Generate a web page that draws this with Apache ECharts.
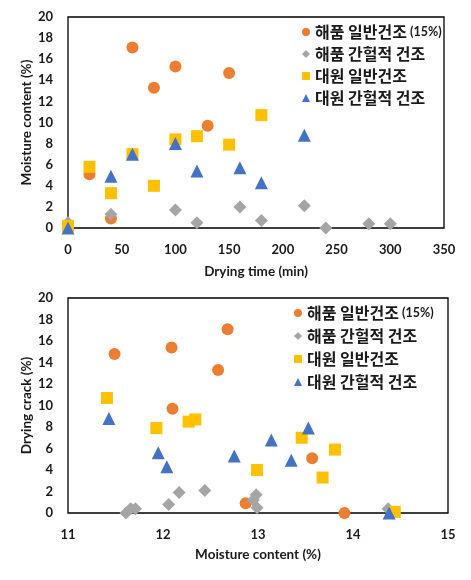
<!DOCTYPE html>
<html>
<head>
<meta charset="utf-8">
<script src="https://cdn.jsdelivr.net/npm/echarts@6/dist/echarts.min.js"></script>
<style>
html,body{margin:0;padding:0;background:#fff;}
#main{width:471px;height:580px;}
</style>
</head>
<body>
<div id="main"></div>
<script>
// ---- Data ----
var seriesNames = ['해품 일반건조', '해품 간헐적 건조', '대원 일반건조', '대원 간헐적 건조'];

// Top chart: drying time (min) vs moisture content (%)
var topHaeGen = [[0,0],[20,5.1],[40,0.9],[60,17.1],[80,13.3],[100,15.3],[130,9.7],[150,14.7]];
var topHaeInt = [[0,0.5],[40,1.3],[100,1.7],[120,0.5],[160,2.0],[180,0.7],[220,2.1],[240,0],[280,0.4],[300,0.4]];
var topDaeGen = [[0,0.2],[20,5.8],[40,3.3],[60,7.0],[80,4.0],[100,8.4],[120,8.7],[150,7.9],[180,10.7]];
var topDaeInt = [[0,0],[40,4.9],[60,7.0],[100,8.0],[120,5.4],[160,5.7],[180,4.3],[220,8.8]];

// Bottom chart: moisture content (%) vs drying crack (%)
var botHaeGen = [[11.49,14.8],[12.09,15.4],[12.1,9.7],[12.68,17.1],[12.58,13.3],[12.87,0.9],[13.57,5.1],[13.91,0]];
var botHaeInt = [[11.61,0],[11.66,0.4],[11.71,0.4],[12.06,0.8],[12.17,1.9],[12.44,2.1],[12.98,1.7],[12.95,1.2],[12.99,0.5],[14.37,0.4]];
var botDaeGen = [[11.41,10.7],[11.93,7.9],[12.27,8.5],[12.34,8.7],[12.99,4.0],[13.46,7.0],[13.81,5.9],[13.68,3.3],[14.44,0.1]];
var botDaeInt = [[11.43,8.8],[11.95,5.6],[12.04,4.3],[12.75,5.3],[13.14,6.8],[13.35,4.9],[13.53,7.9],[14.38,0]];

var topXTicks = {min:0, max:350, interval:50};
var botXTicks = {min:11, max:15, interval:1};
var yTicks = {min:0, max:20, interval:2};

// ---- Styles ----
var colors = ['#ED7D31', '#A5A5A5', '#FFC000', '#4472C4'];
var symbols = ['circle', 'diamond', 'rect', 'triangle'];
var sizes = [12, 13, 12, 13];
var numFont = 'Lato';
var cjkFont = 'Noto Sans CJK KR';

var chart = echarts.init(document.getElementById('main'), null, {renderer:'canvas'});

function axisLabel(){ return {fontFamily:numFont, fontWeight:'bold', fontSize:13, color:'#1a1a1a', margin:15}; }
function nameStyle(){ return {fontFamily:numFont, fontWeight:'bold', fontSize:13.5, color:'#1a1a1a'}; }

function mkSeries(data, i, idx){
  return {
    name: seriesNames[i], type:'scatter', xAxisIndex:idx, yAxisIndex:idx,
    symbol: symbols[i], symbolSize: sizes[i],
    itemStyle:{color: colors[i], opacity:1},
    data: data, z: 2 + i
  };
}

function legendFmt(name){
  if (name === seriesNames[0]) return '{a|' + name + '}{b| (15%)}';
  return '{a|' + name + '}';
}
var legendText = {
  fontFamily: cjkFont, fontWeight:'bold', fontSize:16, color:'#1a1a1a',
  rich: {
    a: {fontFamily: cjkFont, fontWeight:'bold', fontSize:16, color:'#1a1a1a'},
    b: {fontFamily: numFont, fontWeight:'bold', fontSize:12.5, color:'#1a1a1a'}
  }
};

var option = {
  animation:false,
  backgroundColor:'#fff',
  grid:[
    {left:68, top:17, width:376, height:211, show:true, borderColor:'#000', borderWidth:1.3, backgroundColor:'transparent'},
    {left:68, top:298, width:380, height:215, show:true, borderColor:'#000', borderWidth:1.3, backgroundColor:'transparent'}
  ],
  xAxis:[
    {gridIndex:0, type:'value', min:topXTicks.min, max:topXTicks.max, interval:topXTicks.interval,
     name:'Drying time (min)', nameLocation:'middle', nameGap:37, nameTextStyle:nameStyle(),
     axisLine:{show:false}, axisTick:{show:false}, splitLine:{show:false}, axisLabel:axisLabel()},
    {gridIndex:1, type:'value', min:botXTicks.min, max:botXTicks.max, interval:botXTicks.interval,
     name:'Moisture content (%)', nameLocation:'middle', nameGap:35, nameTextStyle:nameStyle(),
     axisLine:{show:false}, axisTick:{show:false}, splitLine:{show:false}, axisLabel:axisLabel()}
  ],
  yAxis:[
    {gridIndex:0, type:'value', min:yTicks.min, max:yTicks.max, interval:yTicks.interval,
     name:'Moisture content (%)', nameLocation:'middle', nameGap:34, nameRotate:90, nameMoveOverlap:false, nameTextStyle:nameStyle(),
     axisLine:{show:false}, axisTick:{show:false}, splitLine:{show:false}, axisLabel:axisLabel()},
    {gridIndex:1, type:'value', min:yTicks.min, max:yTicks.max, interval:yTicks.interval,
     name:'Drying crack (%)', nameLocation:'middle', nameGap:34, nameRotate:90, nameMoveOverlap:false, nameTextStyle:nameStyle(),
     axisLine:{show:false}, axisTick:{show:false}, splitLine:{show:false}, axisLabel:axisLabel()}
  ],
  legend:[
    {orient:'vertical', left:297, top:19, itemWidth:8, itemHeight:8, itemGap:6,
     data: seriesNames.map(function(n,i){return {name:n, icon: symbols[i]};}),
     formatter: legendFmt, textStyle: legendText, selectedMode:false},
    {orient:'vertical', left:289, top:300, itemWidth:8, itemHeight:8, itemGap:7,
     data: seriesNames.map(function(n,i){return {name:n, icon: symbols[i]};}),
     formatter: legendFmt, textStyle: legendText, selectedMode:false}
  ],
  series:[
    mkSeries(topHaeGen,0,0), mkSeries(topHaeInt,1,0), mkSeries(topDaeGen,2,0), mkSeries(topDaeInt,3,0),
    mkSeries(botHaeGen,0,1), mkSeries(botHaeInt,1,1), mkSeries(botDaeGen,2,1), mkSeries(botDaeInt,3,1)
  ]
};
chart.setOption(option);
</script>
</body>
</html>
